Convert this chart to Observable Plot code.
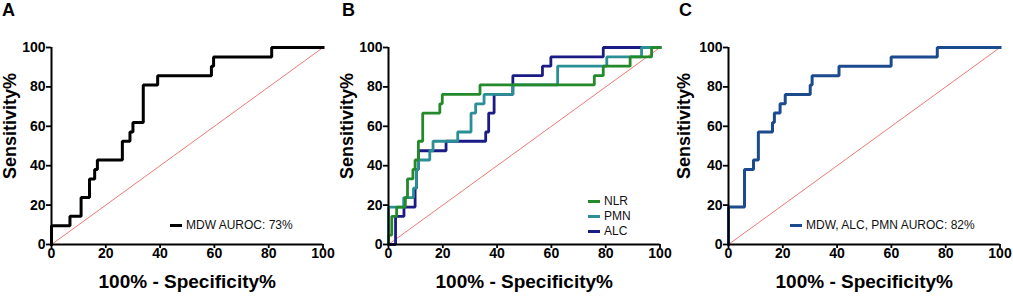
<!DOCTYPE html>
<html>
<head>
<meta charset="utf-8">
<script src="https://cdn.jsdelivr.net/npm/d3@7"></script>
<script src="https://cdn.jsdelivr.net/npm/@observablehq/plot@0.6"></script>
<style>
  html, body { margin: 0; padding: 0; background: #fff; }
  #wrap { position: relative; width: 1013px; height: 302px; overflow: hidden; font-family: "Liberation Sans", Arial, Helvetica, sans-serif; }
  .panel { position: absolute; top: 0; }
  .letter { position: absolute; top: 1px; font-size: 18px; font-weight: bold; color: #000; line-height: 18px; }
  .legend { position: absolute; font-size: 12px; color: #111; line-height: 15px; }
  .legend .row { display: flex; align-items: center; height: 15px; }
  .legend .sw { width: 12px; height: 3px; margin-right: 4px; }
  svg.panel text { font-weight: bold; }
</style>
</head>
<body>
<div id="wrap"></div>
<script>
// ---- data ----
const ticks = [0, 20, 40, 60, 80, 100];
const diag = [0, 100];

// Panel A: MDW
const mdwFpr  = [0, 0, 6.8, 10.9, 14.0, 15.9, 16.9, 26.1, 28.9, 30.0, 33.8, 39.1, 58.9, 59.7, 81.1, 100];
const mdwSens = [0, 9.5, 14.3, 23.8, 33.3, 38.1, 42.9, 52.4, 57.1, 61.9, 81.0, 85.7, 90.5, 95.2, 100, 100];

// Panel B: NLR, PMN, ALC
const nlrFpr  = [0, 0, 1.2, 3.0, 6.2, 7.0, 9.0, 9.8, 11.0, 12.6, 18.9, 19.8, 33.7, 75.8, 79.1, 89.0, 96.9, 100];
const nlrSens = [0, 4.8, 14.3, 19.0, 23.8, 33.3, 38.1, 42.9, 52.4, 66.7, 71.4, 76.2, 81.0, 85.7, 90.5, 95.2, 100, 100];
const pmnFpr  = [0, 0, 5.6, 9.2, 10.3, 11.0, 15.2, 16.4, 25.5, 30.4, 32.1, 35.2, 45.8, 62.3, 80.4, 93.2, 100];
const pmnSens = [0, 19.0, 23.8, 28.6, 38.1, 42.9, 47.6, 52.4, 57.1, 66.7, 71.4, 76.2, 81.0, 90.5, 95.2, 100, 100];
const alcFpr  = [0, 2.6, 5.7, 9.8, 10.3, 11.0, 21.2, 35.8, 36.9, 38.9, 45.8, 56.7, 59.8, 79.1, 100];
const alcSens = [0, 14.3, 19.0, 28.6, 38.1, 47.6, 52.4, 57.1, 66.7, 76.2, 85.7, 90.5, 95.2, 100, 100];

// Panel C: MDW, ALC, PMN combined
const comboFpr  = [0, 0, 5.9, 9.2, 11.0, 16.2, 16.9, 19.0, 20.9, 30.1, 30.8, 40.7, 59.9, 76.9, 100];
const comboSens = [0, 19.0, 38.1, 42.9, 57.1, 61.9, 66.7, 71.4, 76.2, 81.0, 85.7, 90.5, 95.2, 100, 100];

const panelLetters = ["A", "B", "C"];
const legendA = ["MDW AUROC: 73%"];
const legendB = ["NLR", "PMN", "ALC"];
const legendC = ["MDW, ALC, PMN AUROC: 82%"];
const xTitle = "100% - Specificity%";
const yTitle = "Sensitivity%";

// ---- drawing ----
const toRows = (fpr, sens) => fpr.map((f, i) => ({fpr: f, sens: sens[i]}));

function panel(series, width, marginLeft) {
  const marks = [
    Plot.line(diag.map(v => ({fpr: v, sens: v})), {x: "fpr", y: "sens", stroke: "#ee6a64", strokeWidth: 0.9}),
    ...series.map(s => Plot.line(toRows(s.fpr, s.sens), {
      x: "fpr", y: "sens", curve: "step-after", stroke: s.color, strokeWidth: s.width,
      strokeLinejoin: "miter", strokeLinecap: "square"
    })),
    Plot.ruleX([0], {stroke: "#000", strokeWidth: 2}),
    Plot.ruleY([0], {stroke: "#000", strokeWidth: 2}),
    Plot.axisY({ticks, tickSize: 5, tickPadding: 1, fontSize: 14, fontWeight: "bold", strokeWidth: 1.8, label: null}),
    Plot.axisX({ticks, tickSize: 4, tickPadding: 0, fontSize: 14, fontWeight: "bold", strokeWidth: 1.8, label: null}),
    Plot.text([yTitle], {text: d => d, frameAnchor: "left", textAnchor: "middle", lineAnchor: "middle", rotate: -90, dx: -(marginLeft - 10), dy: -20, fontSize: 18, fontWeight: "bold", fill: "#000"}),
    Plot.text([xTitle], {text: d => d, frameAnchor: "bottom", textAnchor: "middle", dy: 43, fontSize: 19, fontWeight: "bold", fill: "#000"})
  ];
  return Plot.plot({
    width, height: 302,
    marginLeft, marginRight: width - marginLeft - 271.5, marginTop: 47, marginBottom: 58,
    x: {domain: [0, 100], axis: null},
    y: {domain: [0, 100], axis: null},
    style: {fontFamily: '"Liberation Sans", Arial, Helvetica, sans-serif', fontWeight: "bold", fontSize: "14px", color: "#000", background: "transparent", overflow: "visible"},
    marks
  });
}

const wrap = document.getElementById("wrap");
function place(svg, left) {
  svg.classList.add("panel");
  svg.style.position = "absolute";
  svg.style.left = left + "px";
  svg.style.top = "0px";
  wrap.appendChild(svg);
}

place(panel([{fpr: mdwFpr, sens: mdwSens, color: "#000000", width: 3}], 337, 51), 0);
place(panel([
  {fpr: alcFpr, sens: alcSens, color: "#1b1b86", width: 2.8},
  {fpr: pmnFpr, sens: pmnSens, color: "#2a9095", width: 2.8},
  {fpr: nlrFpr, sens: nlrSens, color: "#23892a", width: 2.8}
], 337, 51), 337);
place(panel([{fpr: comboFpr, sens: comboSens, color: "#1c4a8e", width: 3}], 339, 54), 674);

// panel letters
[2, 342, 679].forEach((left, i) => {
  const d = document.createElement("div");
  d.className = "letter"; d.style.left = left + "px"; d.textContent = panelLetters[i];
  wrap.appendChild(d);
});

// legends (inside plot areas)
function legend(items, colors, left, top) {
  const d = document.createElement("div");
  d.className = "legend"; d.style.left = left + "px"; d.style.top = top + "px";
  items.forEach((t, i) => {
    const r = document.createElement("div"); r.className = "row";
    const sw = document.createElement("span"); sw.className = "sw"; sw.style.background = colors[i];
    const tx = document.createElement("span"); tx.textContent = t;
    r.appendChild(sw); r.appendChild(tx); d.appendChild(r);
  });
  wrap.appendChild(d);
}
legend(legendA, ["#000000"], 170, 217.5);
legend(legendB, ["#23892a", "#2a9095", "#1b1b86"], 588, 194);
legend(legendC, ["#1c4a8e"], 790, 217.5);
</script>
</body>
</html>
